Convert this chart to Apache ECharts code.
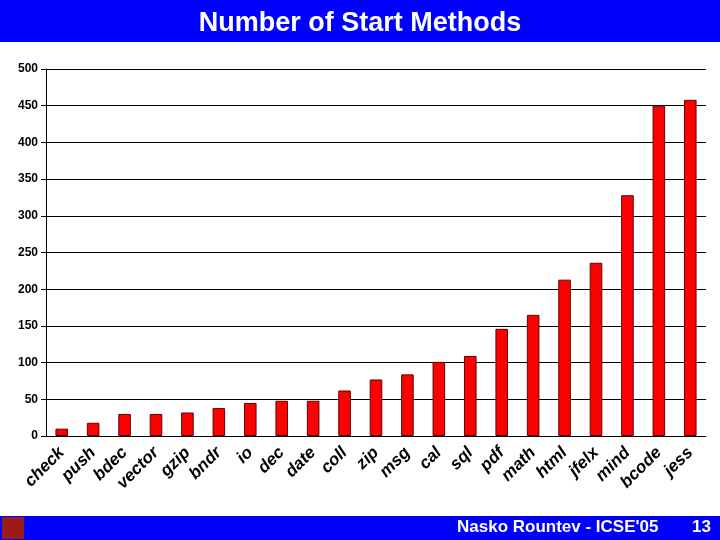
<!DOCTYPE html>
<html>
<head>
<meta charset="utf-8">
<script src="https://cdn.jsdelivr.net/npm/echarts@6/dist/echarts.min.js"></script>
<style>
  body { margin: 0; background: #fff; }
  #chart { width: 720px; height: 540px; }
</style>
</head>
<body>
<div id="chart"></div>
<script>
var categories = ['check', 'push', 'bdec', 'vector', 'gzip', 'bndr', 'io', 'dec', 'date', 'coll', 'zip',
  'msg', 'cal', 'sql', 'pdf', 'math', 'html', 'jfelx', 'mind', 'bcode', 'jess'];
var methods = [10, 18, 30, 30, 32, 38, 45, 48, 48, 62, 77, 84, 101, 109, 146, 165, 213, 236, 328, 450, 458];
var yTicks = [0, 50, 100, 150, 200, 250, 300, 350, 400, 450, 500];

var myChart = echarts.init(document.getElementById('chart'));
var option = {
  animation: false,
  graphic: [
    { type: 'rect', left: 0, top: 0, shape: { width: 720, height: 42 }, style: { fill: '#0000ff' } },
    { type: 'rect', left: 0, top: 516, shape: { width: 720, height: 24 }, style: { fill: '#0000ff' } },
    { type: 'rect', left: 2, top: 517, shape: { width: 22, height: 22 }, style: { fill: '#9b1b1b' } },
    { type: 'text', left: 457, top: 519, style: { text: "Nasko Rountev - ICSE'05", fill: '#fff',
      font: 'bold 17px "Liberation Sans", Arial, sans-serif' } },
    { type: 'text', left: 692, top: 519, style: { text: '13', fill: '#fff',
      font: 'bold 17px "Liberation Sans", Arial, sans-serif' } }
  ],
  title: {
    text: 'Number of Start Methods',
    left: 'center', top: 5,
    textStyle: { color: '#fff', fontSize: 27, fontWeight: 'bold', fontFamily: '"Liberation Sans", Arial, sans-serif' }
  },
  grid: { left: 46, right: 14, top: 69, bottom: 104 },
  xAxis: {
    type: 'category',
    data: categories,
    axisLine: { lineStyle: { color: '#000' } },
    axisTick: { show: false },
    axisLabel: {
      interval: 0, rotate: 45, margin: 14, color: '#000',
      fontSize: 17, fontWeight: 'bold', fontStyle: 'italic',
      fontFamily: '"Liberation Sans", Arial, sans-serif'
    }
  },
  yAxis: {
    type: 'value',
    min: yTicks[0], max: yTicks[yTicks.length - 1], interval: 50,
    axisLine: { show: true, lineStyle: { color: '#000' } },
    axisTick: { show: true, lineStyle: { color: '#000' } },
    splitLine: { lineStyle: { color: '#000', width: 1 } },
    axisLabel: { color: '#000', fontSize: 12, fontWeight: 'bold', fontFamily: '"Liberation Sans", Arial, sans-serif' }
  },
  series: [{
    type: 'bar',
    data: methods,
    barWidth: '40%',
    itemStyle: { color: '#ff0000', borderColor: '#600000', borderWidth: 1 }
  }]
};
myChart.setOption(option);
</script>
</body>
</html>
